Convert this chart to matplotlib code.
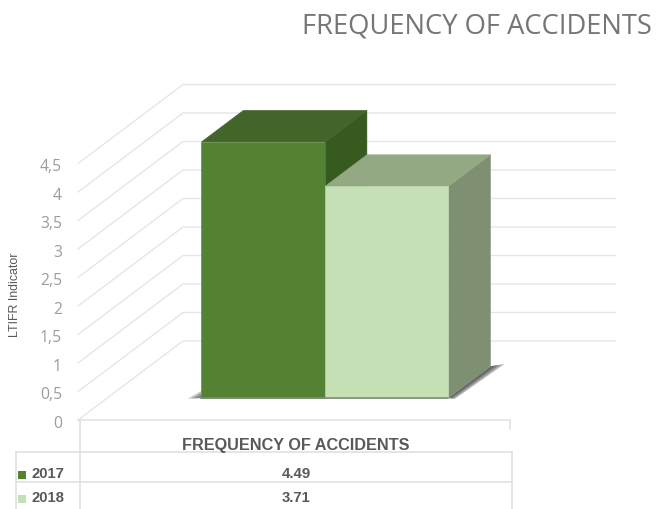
import matplotlib
matplotlib.use('Agg')
import matplotlib.pyplot as plt
from matplotlib.patches import Polygon

title = 'FREQUENCY OF ACCIDENTS'
ylabel = 'LTIFR Indicator'
years = ['2017', '2018']
values = [4.49, 3.71]
ticks = [0, 0.5, 1, 1.5, 2, 2.5, 3, 3.5, 4, 4.5]
tick_labels = ['0', '0,5', '1', '1,5', '2', '2,5', '3', '3,5', '4', '4,5']

front_cols = ['#548235', '#c5e0b4']
top_cols = ['#43652a', '#93a983']
side_cols = ['#375a1f', '#7f9072']
grid_col = '#e6e6e6'
text_col = '#595959'
tick_col = '#9c9c9c'

W, H = 662, 510
px_x = 123.5   # pixels per bar
px_y = 57.0    # pixels per unit of value
x0_px, y0_px = 172.0, 421.0   # where bar 0 / value 0 sit on the front edge
depth_px = (105.0, 79.0)      # wall depth in pixels

fig = plt.figure(figsize=(W / 100, H / 100), dpi=100)

# chart axes: x in bar widths, y in indicator units
ax = fig.add_axes([0, 0, 1, 1])
ax.set_xlim(-x0_px / px_x, (W - x0_px) / px_x)
ax.set_ylim(-(H - y0_px) / px_y, y0_px / px_y)
ax.axis('off')

# pixel axes for the texts and the data table
tx = fig.add_axes([0, 0, 1, 1])
tx.set_xlim(0, W)
tx.set_ylim(H, 0)
tx.axis('off')
tx.patch.set_alpha(0)

dx = depth_px[0] / px_x
dy = depth_px[1] / px_y


def proj(x, y, z):
    return (x + z * dx, y + z * dy)


left = (78 - x0_px) / px_x
right = (510 - x0_px) / px_x
back_right = (615 - x0_px - depth_px[0]) / px_x

# walls
for t in ticks:
    p0 = proj(left, t, 0)
    p1 = proj(left, t, 1)
    p2 = proj(back_right, t, 1)
    ax.plot([p0[0], p1[0], p2[0]], [p0[1], p1[1], p2[1]], color=grid_col, lw=1.0, zorder=1)
ax.plot([left, right], [0, 0], color=grid_col, lw=1.3, zorder=1)

z_a, z_b = 0.28, 0.68
for i, v in enumerate(values):
    # soft shadow on the floor
    for s in [1.0, 0.7, 0.4]:
        if i == len(values) - 1:
            sh = [proj(i + 1, 0, z_a), proj(i + 1, 0, z_b),
                  proj(i + 1 + 0.09 * s, 0, z_b + 0.03 * s), proj(i + 1 + 0.05 * s, -0.02 * s, z_a)]
            ax.add_patch(Polygon(sh, closed=True, fc='#303030', ec='none', alpha=0.35, zorder=2))
        if i == 0:
            sh = [proj(i, 0, z_a), proj(i, 0.12 * s, z_a), proj(i - 0.1 * s, 0, z_a - 0.01)]
            ax.add_patch(Polygon(sh, closed=True, fc='#505050', ec='none', alpha=0.35, zorder=2))

    face = [proj(i, 0, z_a), proj(i + 1, 0, z_a), proj(i + 1, v, z_a), proj(i, v, z_a)]
    top = [proj(i, v, z_a), proj(i + 1, v, z_a), proj(i + 1, v, z_b), proj(i, v, z_b)]
    side = [proj(i + 1, 0, z_a), proj(i + 1, 0, z_b), proj(i + 1, v, z_b), proj(i + 1, v, z_a)]
    ax.add_patch(Polygon(side, closed=True, fc=side_cols[i], ec=side_cols[i], lw=0.4, zorder=3 + i))
    ax.add_patch(Polygon(top, closed=True, fc=top_cols[i], ec=top_cols[i], lw=0.4, zorder=3 + i))
    ax.add_patch(Polygon(face, closed=True, fc=front_cols[i], ec=front_cols[i], lw=0.4, zorder=3 + i))
    a, b = proj(i, 0, z_a), proj(i + 1, 0, z_a)
    ax.plot([a[0], b[0]], [a[1], b[1]], color='#808a78', lw=1.2, zorder=6)

# tick labels
for t, lab in zip(ticks, tick_labels):
    ax.annotate(lab, xy=((62 - x0_px) / px_x, t), xytext=(0, -2), textcoords='offset points',
                ha='right', va='center', color=tick_col, fontsize=11.3, family='Open Sans')

tx.text(477, 33.5, title, ha='center', va='baseline', color='#767676', fontsize=19.7, family='Open Sans')
tx.text(15.5, 295, ylabel, rotation=90, ha='center', va='center', color=text_col,
        fontsize=8.9, family='Liberation Sans')

# data table, it runs off the bottom of the picture
line = dict(color='#dedede', lw=1.1, zorder=1)
tx.plot([80, 80], [421, 510], **line)
tx.plot([510, 510], [422, 430], **line)
tx.plot([16, 512], [453, 453], **line)
tx.plot([16, 512], [482.5, 482.5], **line)
tx.plot([16, 16], [453, 510], **line)
tx.plot([512, 512], [453, 510], **line)
tx.text(296, 445.5, title, ha='center', va='center', color=text_col, fontsize=11.7,
        fontweight='bold', family='Liberation Sans')

row_y = [474, 498]
for i, (yr, v) in enumerate(zip(years, values)):
    tx.scatter([21.5], [row_y[i] + 1.5], marker='s', s=30, color=front_cols[i], linewidths=0, zorder=3)
    tx.text(31, row_y[i], yr, ha='left', va='center', color=text_col, fontsize=10.7,
            fontweight='bold', family='Liberation Sans')
    tx.text(296, row_y[i], f'{v:.2f}', ha='center', va='center', color=text_col, fontsize=10.7,
            fontweight='bold', family='Liberation Sans')

fig.savefig('out.png', dpi=100)
